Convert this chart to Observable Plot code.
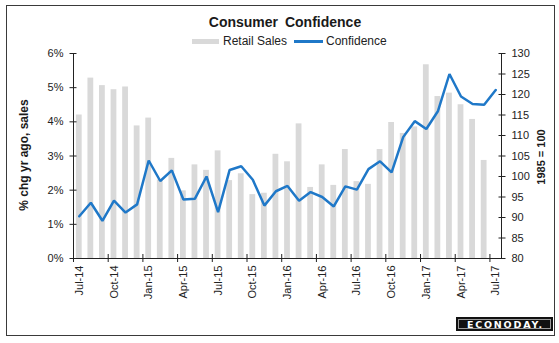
<!DOCTYPE html>
<html><head><meta charset="utf-8">
<script src="https://cdn.jsdelivr.net/npm/d3@7"></script>
<script src="https://cdn.jsdelivr.net/npm/@observablehq/plot@0.6"></script>
<style>
html,body{margin:0;padding:0;background:#fff;}
#wrap{position:relative;width:559px;height:343px;font-family:"Liberation Sans",Arial,sans-serif;overflow:hidden;background:#fff;color:#222;}
#wrap svg{position:absolute;left:0;top:0;}
#frame{position:absolute;left:6px;top:5px;width:549px;height:331px;border:1.5px solid #3a3a3a;box-sizing:border-box;}
.abs{position:absolute;white-space:nowrap;}
#title{left:285px;top:14px;transform:translateX(-50%);font-weight:bold;font-size:14px;word-spacing:3px;color:#1a1a1a;}
.leg{top:34px;font-size:12px;line-height:14px;color:#222;}
#sw1{position:absolute;left:192px;top:39px;width:27px;height:5px;background:#d9d9d9;}
#sw2{position:absolute;left:294px;top:40px;width:29px;height:2.5px;background:#1f78c8;}
#ltitle{left:24px;top:155px;transform:translate(-50%,-50%) rotate(-90deg);font-weight:bold;font-size:12px;color:#1a1a1a;}
#rtitle{left:541px;top:157px;transform:translate(-50%,-50%) rotate(-90deg);font-weight:bold;font-size:11px;color:#1a1a1a;}
#logo{position:absolute;left:456px;top:317px;width:97px;height:14px;background:#111;box-sizing:border-box;border:1px solid #111;outline:1px solid #999;outline-offset:-3px;color:#fff;font-weight:bold;font-size:9.5px;letter-spacing:1.8px;text-indent:1.8px;text-align:center;line-height:14px;font-family:"DejaVu Sans","Liberation Sans",sans-serif;overflow:hidden;}
</style>
</head><body>
<div id="wrap">
  <div id="frame"></div>
  <div id="title" class="abs">Consumer Confidence</div>
  <div id="sw1"></div><div class="abs leg" style="left:223px">Retail Sales</div>
  <div id="sw2"></div><div class="abs leg" style="left:326px">Confidence</div>
  <div id="ltitle" class="abs">% chg yr ago, sales</div>
  <div id="rtitle" class="abs">1985 = 100</div>
  <div id="logo">ECONODAY.</div>
</div>
<script>
const months = ["Jul-14","Aug-14","Sep-14","Oct-14","Nov-14","Dec-14","Jan-15","Feb-15","Mar-15","Apr-15","May-15","Jun-15",
  "Jul-15","Aug-15","Sep-15","Oct-15","Nov-15","Dec-15","Jan-16","Feb-16","Mar-16","Apr-16","May-16","Jun-16",
  "Jul-16","Aug-16","Sep-16","Oct-16","Nov-16","Dec-16","Jan-17","Feb-17","Mar-17","Apr-17","May-17","Jun-17","Jul-17"];
const retailSales = [4.2,5.28,5.06,4.94,5.02,3.88,4.11,2.3,2.93,1.98,2.74,2.58,
  3.15,2.28,2.48,1.87,1.91,3.05,2.83,3.94,2.08,2.74,2.14,3.19,
  2.25,2.17,3.19,3.98,3.66,3.85,5.67,4.74,4.84,4.5,4.07,2.87,null];
const confidence = [90.3,93.6,89.2,94.1,91.2,93.2,103.9,98.9,101.5,94.4,94.6,100.0,
  91.3,101.6,102.5,99.2,92.9,96.4,97.7,94.1,96.2,95.0,92.7,97.6,
  96.8,101.8,103.7,101.0,109.6,113.5,111.6,115.9,125.0,119.5,117.7,117.5,121.1];
const leftTicks = [0,1,2,3,4,5,6];
const rightTicks = [80,85,90,95,100,105,110,115,120,125,130];

const rows = months.map((m,i)=>({i, m, s: retailSales[i], c: confidence[i]}));
const rMin = 80, rMax = 130, lMax = 6;
const toLeft = v => (v - rMin) * lMax / (rMax - rMin);
const fromLeft = v => Math.round(v * (rMax - rMin) / lMax + rMin);
const labelIdx = months.map((m,i)=>i).filter(i=>i%3===0);
const tickIdx = labelIdx.map(i=>i-0.5);
const ink = "#222";

const chart = Plot.plot({
  width: 559, height: 343,
  marginLeft: 73, marginRight: 58, marginTop: 53, marginBottom: 85,
  style: {fontFamily: "Liberation Sans, Arial, sans-serif", fontSize: "11px", color: ink, background: "transparent", overflow: "visible"},
  x: {type: "linear", domain: [-0.5, months.length - 0.5]},
  y: {domain: [0, lMax]},
  marks: [
    Plot.rectY(rows.filter(d=>d.s!=null), {x1: d=>d.i-0.25, x2: d=>d.i+0.25, y1: 0, y2: "s", fill: "#d9d9d9"}),
    Plot.line(rows, {x: "i", y: d=>toLeft(d.c), stroke: "#1f78c8", strokeWidth: 2.5, strokeLinejoin: "miter"}),
    Plot.ruleX([-0.5, months.length - 0.5], {stroke: ink}),
    Plot.ruleY([0], {stroke: ink}),
    Plot.axisY({anchor: "left", ticks: leftTicks, tickFormat: d=>d+"%", tickSize: 7, dx: 3.5, tickPadding: 6.5, label: null, stroke: ink, fill: ink}),
    Plot.axisY({anchor: "right", ticks: rightTicks.map(toLeft), tickFormat: d=>String(fromLeft(d)), tickSize: 7, dx: -3.5, tickPadding: 6.5, label: null, stroke: ink, fill: ink}),
    Plot.axisX({anchor: "bottom", ticks: tickIdx, tickFormat: ()=>"", tickSize: 8, dy: -4, label: null, stroke: ink}),
    Plot.axisX({anchor: "bottom", ticks: labelIdx, tickFormat: i=>months[i], tickSize: 0, tickPadding: 7, tickRotate: -90, label: null, fill: ink})
  ]
});
document.getElementById("wrap").insertBefore(chart, document.getElementById("frame"));
</script>
</body></html>
